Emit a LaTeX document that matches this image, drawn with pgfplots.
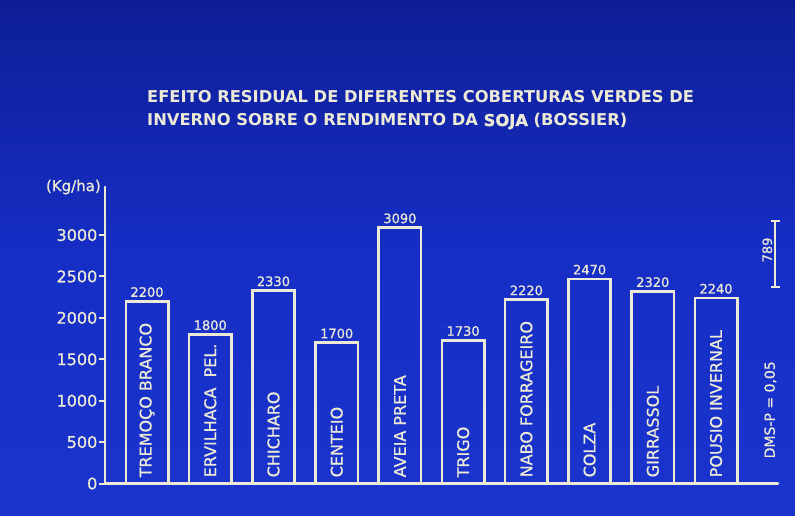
\documentclass[border=0pt]{standalone}
\usepackage{pgfplots}
\pgfplotsset{compat=1.18}
\usepackage{pgfplotstable}
\usepackage{fontspec}
\setmainfont{DejaVu Sans}
\newfontfamily\heavy[FakeBold=1.2]{DejaVu Sans Bold}
\newfontfamily\medium[FakeBold=0.8]{DejaVu Sans}

\definecolor{bgtop}{RGB}{14,30,150}
\definecolor{bgmid}{RGB}{22,46,198}
\definecolor{bgbot}{RGB}{26,52,205}
\definecolor{ink}{RGB}{236,234,214}

% rendimento da soja (kg/ha), valores escritos sobre as barras
\pgfplotstableread{
x y
0 2200
1 1800
2 2330
3 1700
4 3090
5 1730
6 2220
7 2470
8 2320
9 2240
}\soja

\begin{document}
\begin{tikzpicture}[x=1pt,y=1pt]
\shade[top color=bgtop, bottom color=bgbot, middle color=bgmid] (0,0) rectangle (795,515);
\path[use as bounding box] (0,0) rectangle (795,515);

% titulo
\node[anchor=base west, inner sep=0, text=ink, font=\fontsize{16.3}{19}\selectfont\bfseries]
  at (147,412) {EFEITO RESIDUAL DE DIFERENTES COBERTURAS VERDES DE};
\node[anchor=base west, inner sep=0, text=ink, font=\fontsize{16.3}{19}\selectfont\bfseries]
  at (147,389) {INVERNO SOBRE O RENDIMENTO DA {\heavy SOJA} (BOSSIER)};

\begin{axis}[
    at={(105pt,31.5pt)}, anchor=south west,
    scale only axis,
    width=673pt, height=296.5pt,
    xmin=-0.665, xmax=9.98,
    ymin=0, ymax=3580,
    axis x line*=bottom, axis y line*=left,
    axis line style={ink, line width=2.6pt, line cap=round},
    xtick=\empty,
    ytick={0,500,...,3000},
    scaled y ticks=false,
    tick align=outside,
    major tick length=6pt,
    tick style={ink, line width=2pt},
    /pgf/number format/assume math mode=true,
    /pgf/number format/1000 sep={},
    yticklabel style={text=ink, font=\medium\fontsize{16}{18}\selectfont, inner sep=1.5pt},
    clip=false,
]
\addplot[ybar, bar width=0.67, bar shift=0pt, draw=ink, fill=none, line width=2.6pt,
    nodes near coords,
    nodes near coords style={text=ink, font=\medium\fontsize{13}{15}\selectfont, inner sep=3pt}]
  table[x=x, y=y] {\soja};

% nomes das coberturas, dentro das barras
\begin{scope}[every node/.style={rotate=90, anchor=west, text=ink, inner sep=0,
    font=\medium\fontsize{16}{18}\selectfont}]
\node at ([yshift=6pt]axis cs:0,0) {TREMOÇO BRANCO};
\node at ([yshift=6pt]axis cs:1,0) {ERVILHACA\ \ PEL.};
\node at ([yshift=6pt]axis cs:2,0) {CHICHARO};
\node at ([yshift=6pt]axis cs:3,0) {CENTEIO};
\node at ([yshift=6pt]axis cs:4,0) {AVEIA PRETA};
\node at ([yshift=6pt]axis cs:5,0) {TRIGO};
\node at ([yshift=6pt]axis cs:6,0) {NABO FORRAGEIRO};
\node at ([yshift=6pt]axis cs:7,0) {COLZA};
\node at ([yshift=6pt]axis cs:8,0) {GIRRASSOL};
\node at ([yshift=6pt]axis cs:9,0) {POUSIO INVERNAL};
\end{scope}

% DMS (P = 0,05)
\addplot[ink, line width=2pt, forget plot, mark=none,
    error bars/.cd, y dir=both, y explicit, error mark=-,
    error bar style={draw=ink, line width=2pt},
    error mark options={draw=ink, line width=2pt, mark size=4.5pt, rotate=90}]
  coordinates {(9.94,2771) +- (0,394.5)};
\node[rotate=90, text=ink, font=\medium\fontsize{13}{15}\selectfont] at (axis cs:9.81,2820) {789};
\node[rotate=90, text=ink, font=\medium\fontsize{14}{16}\selectfont] at (axis cs:9.86,890) {DMS-P = 0,05};

\node[anchor=east, text=ink, font=\medium\fontsize{15}{17}\selectfont, inner sep=0]
  at ([xshift=-4pt]rel axis cs:0,1) {(Kg/ha)};
\end{axis}
\end{tikzpicture}
\end{document}
